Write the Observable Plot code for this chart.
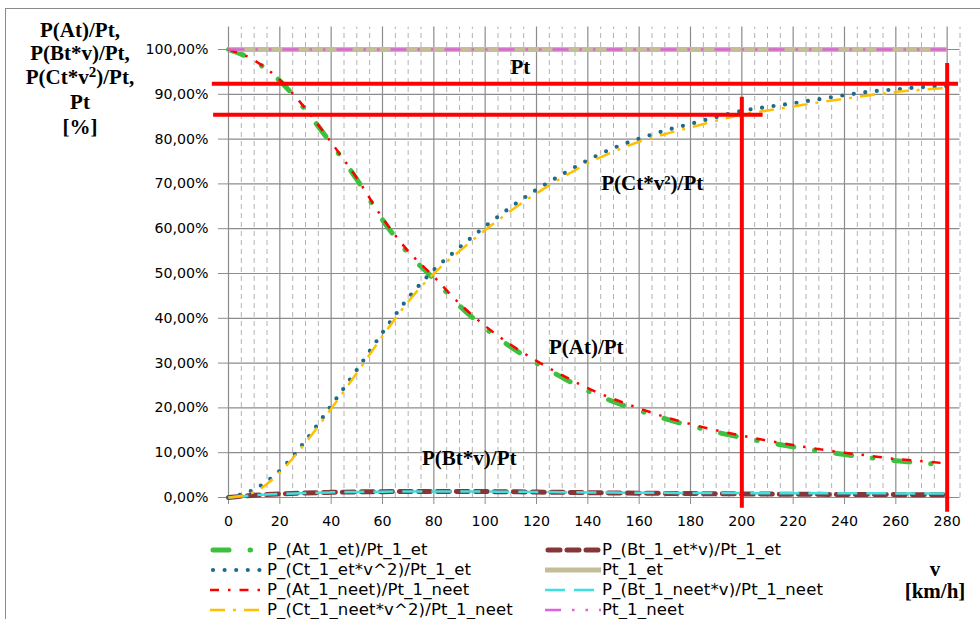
<!DOCTYPE html>
<html><head><meta charset="utf-8">
<script src="https://cdn.jsdelivr.net/npm/d3@7"></script>
<script src="https://cdn.jsdelivr.net/npm/@observablehq/plot@0.6"></script>
<style>
body{margin:0;background:#fff;}
#wrap{position:relative;width:980px;height:619px;overflow:hidden;background:#fff;font-family:"DejaVu Sans",sans-serif;color:#000;}
#frame{position:absolute;left:5px;top:8px;width:1000px;height:700px;border-left:1.5px solid #8a8a8a;border-top:1.5px solid #8a8a8a;box-sizing:border-box;}
#chart{position:absolute;left:0;top:0;}
.serif{position:absolute;width:300px;text-align:center;font-family:"Liberation Serif",serif;font-weight:bold;font-size:21px;line-height:24px;white-space:nowrap;}
.serif sup{font-size:15px;line-height:0;vertical-align:7px;}
.leg{position:absolute;height:20px;line-height:20px;font-size:16.5px;letter-spacing:0.15px;white-space:nowrap;}
.leg svg{position:absolute;left:0;top:5px;}
.leg span{position:absolute;top:0;}
</style></head>
<body><div id="wrap"><div id="frame"></div><div id="chart"></div></div>
<script>
// ---- data (values in %) ----
const speed = [0,10,20,30,40,50,60,70,80,90,100,110,120,130,140,150,160,170,180,190,200,210,220,230,240,250,260,270,280];
const At_et   = [100,97.5,93,86.5,79,71,62,54.5,48.8,42.8,37.8,33.6,30,26.8,23.8,21.4,19.4,17.6,16,14.6,13.4,12.3,11.3,10.4,9.6,8.9,8.2,7.7,7.2];
const Bt_et   = [0,0.5,0.8,1.0,1.15,1.25,1.3,1.33,1.35,1.34,1.32,1.28,1.22,1.15,1.08,1.02,0.97,0.92,0.88,0.84,0.8,0.76,0.73,0.7,0.68,0.66,0.64,0.62,0.6];
const Ct_et   = [0,1.8,6,12.7,20.5,28.5,36.8,44.5,50.8,55.8,60.5,64.8,68.7,72.1,75.3,78,80.1,81.9,83.4,84.9,86.3,87.2,88,88.9,89.8,90.6,91.1,91.6,91.8];
const Pt_et   = [100,100,100,100,100,100,100,100,100,100,100,100,100,100,100,100,100,100,100,100,100,100,100,100,100,100,100,100,100];
const At_neet = [100,97.6,93.2,86.8,79.3,71.3,62.4,55,49.3,43.3,38.3,34.1,30.5,27.3,24.4,22,19.9,18,16.4,15,13.8,12.7,11.7,10.8,10,9.3,8.6,8.1,7.6];
const Bt_neet = [0,0.5,0.8,1.0,1.15,1.25,1.3,1.33,1.35,1.34,1.32,1.28,1.24,1.19,1.14,1.1,1.07,1.04,1.02,1.0,0.98,0.97,0.96,0.95,0.94,0.93,0.92,0.91,0.9];
const Ct_neet = [0,1.2,5.6,12.2,19.8,27.8,36,43.7,50,55,59.7,64,67.9,71.4,74.6,77.2,79.4,81.1,82.6,84.1,85.5,86.4,87.3,88.2,89,89.8,90.5,91,91.4];
const Pt_neet = [100,100,100,100,100,100,100,100,100,100,100,100,100,100,100,100,100,100,100,100,100,100,100,100,100,100,100,100,100];

const seriesNames = ["P_(At_1_et)/Pt_1_et","P_(Bt_1_et*v)/Pt_1_et","P_(Ct_1_et*v^2)/Pt_1_et","Pt_1_et",
  "P_(At_1_neet)/Pt_1_neet","P_(Bt_1_neet*v)/Pt_1_neet","P_(Ct_1_neet*v^2)/Pt_1_neet","Pt_1_neet"];
const seriesValues = [At_et,Bt_et,Ct_et,Pt_et,At_neet,Bt_neet,Ct_neet,Pt_neet];

const xTicks = [0,20,40,60,80,100,120,140,160,180,200,220,240,260,280];
const xMinor = [5,10,15,25,30,35,45,50,55,65,70,75,85,90,95,105,110,115,125,130,135,145,150,155,165,170,175,185,190,195,205,210,215,225,230,235,245,250,255,265,270,275,285];
const yTicks = [0,0.1,0.2,0.3,0.4,0.5,0.6,0.7,0.8,0.9,1.0];

// annotation labels and red marker lines (data units)
const labels = [
  {t:"Pt", x:113.7, y:0.9605},
  {t:"P(Ct*v²)/Pt", x:165.1, y:0.701},
  {t:"P(At)/Pt", x:139.4, y:0.335},
  {t:"P(Bt*v)/Pt", x:93.8, y:0.087}
];
const redH = [{y:0.9234, x1:-6.3, x2:284.4},{y:0.8542, x1:-5.8, x2:208.3}];
const redV = [{x:200, y1:-0.024, y2:0.8935},{x:280, y1:-0.033, y2:0.969}];

// ---- styles ----
const styles = [
  {stroke:"#3fbf3f", w:5,   dash:"16,21,0.5,21", cap:"round"},
  {stroke:"#843638", w:5,   dash:"12,7",         cap:"round"},
  {stroke:"#1d6a8c", w:4.2, dash:"0,11.6",       cap:"round"},
  {stroke:"#c4bd97", w:5,   dash:null,           cap:"butt"},
  {stroke:"#ff0000", w:2.5, dash:"9,9,2.5,9",    cap:"butt"},
  {stroke:"#3fe0e0", w:2.5, dash:"20,9",         cap:"butt"},
  {stroke:"#ffc000", w:2.5, dash:"15,8,3,8",     cap:"butt"},
  {stroke:"#dd62dd", w:2.5, dash:"16,11,2.5,11,2.5,11", cap:"butt"}
];

const rows = seriesNames.map((n,i)=>speed.map((v,j)=>({v, p:seriesValues[i][j]/100, s:n})));
const fmt = d => (d*100).toFixed(2).replace(".",",") + "%";

const chart = Plot.plot({
  width: 980, height: 540,
  marginLeft: 228, marginRight: 20.5, marginTop: 26.6, marginBottom: 43,
  style: {fontFamily:"DejaVu Sans", fontSize:"14.2px", color:"#000", background:"transparent"},
  x: {domain:[0,285]},
  y: {domain:[0,1.05]},
  marks: [
    Plot.ruleX(xMinor, {y1:0, y2:1.05, stroke:"#b2b2b2", strokeDasharray:"5,4", strokeWidth:1}),
    Plot.ruleX(xTicks, {y1:0, y2:1.05, stroke:"#8c8c8c", strokeWidth:1.2}),
    Plot.ruleY(yTicks, {x1:0, x2:285, stroke:"#8c8c8c", strokeWidth:1.2}),
    Plot.axisX({ticks:xTicks, tickSize:7, tickPadding:11, stroke:"#8c8c8c", tickFormat:d=>String(d)}),
    Plot.axisY({ticks:yTicks, tickSize:10, tickPadding:10, stroke:"#8c8c8c", tickFormat:fmt}),
    ...rows.map((r,i)=>Plot.line(r, {x:"v", y:"p", curve:"monotone-x",
       stroke:styles[i].stroke, strokeWidth:styles[i].w, strokeDasharray:styles[i].dash, strokeLinecap:styles[i].cap})),
    Plot.ruleY(redH, {y:"y", x1:"x1", x2:"x2", stroke:"#ff0000", strokeWidth:4}),
    Plot.ruleX(redV, {x:"x", y1:"y1", y2:"y2", stroke:"#ff0000", strokeWidth:4}),
    Plot.text(labels, {x:"x", y:"y", text:"t", fontFamily:"Liberation Serif", fontWeight:"bold", fontSize:21, fill:"#000"})
  ]
});
document.getElementById("chart").appendChild(chart);

const wrap = document.getElementById("wrap");
// y-axis title
const yTitle = [["P(At)/Pt,",30],["P(Bt*v)/Pt,",53],["P(Ct*v<sup>2</sup>)/Pt,",77],["Pt",102],["[%]",127]];
yTitle.forEach(([t,cy])=>{const d=document.createElement("div");d.className="serif";d.style.left=(80-150)+"px";d.style.top=(cy-12)+"px";d.innerHTML=t;wrap.appendChild(d);});
// x-axis title
[["v",569],["[km/h]",591]].forEach(([t,cy])=>{const d=document.createElement("div");d.className="serif";d.style.left=(935-150)+"px";d.style.top=(cy-12)+"px";d.textContent=t;wrap.appendChild(d);});

// legend
const legPos = [[210,550],[545,550],[210,570],[545,570],[210,590],[545,590],[210,610],[545,610]];
seriesNames.forEach((n,i)=>{
  const s=styles[i];
  const d=document.createElement("div"); d.className="leg";
  d.style.left=legPos[i][0]+"px"; d.style.top=(legPos[i][1]-10)+"px";
  d.innerHTML=`<svg width="56" height="10"><line x1="${s.cap==="round"?3:0}" y1="5" x2="${s.cap==="round"?53:56}" y2="5" stroke="${s.stroke}" stroke-width="${s.w}" ${s.dash?`stroke-dasharray="${s.dash}"`:""} stroke-linecap="${s.cap}"/></svg><span style="left:57px">${n}</span>`;
  wrap.appendChild(d);
});
</script></body></html>
